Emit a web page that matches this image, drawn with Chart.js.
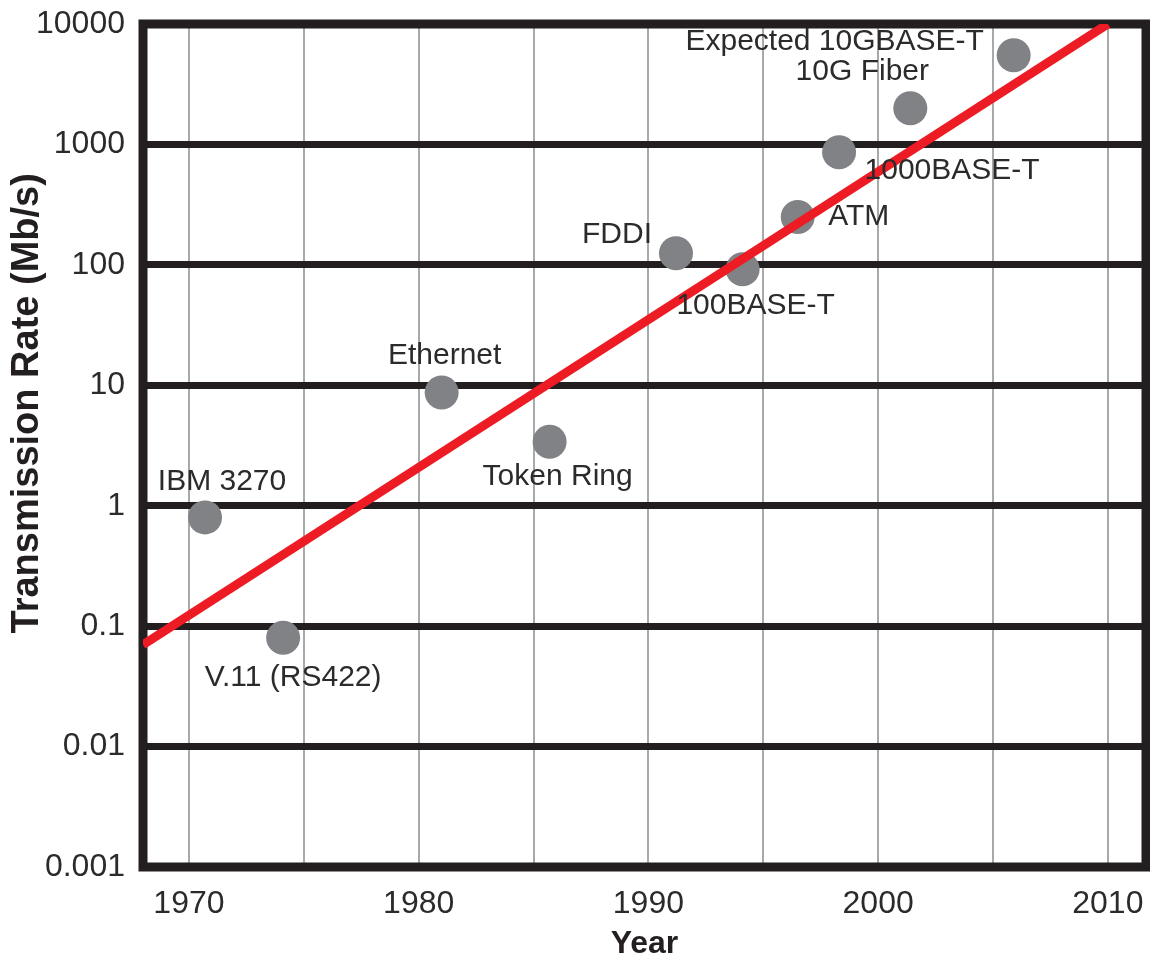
<!DOCTYPE html>
<html>
<head>
<meta charset="utf-8">
<script src="https://cdn.jsdelivr.net/npm/chart.js@4.4.1/dist/chart.umd.min.js"></script>
<style>
  html, body { margin: 0; padding: 0; background: #fff; }
  #wrap { width: 1150px; height: 960px; }
</style>
</head>
<body>
<div id="wrap"><canvas id="rateChart"></canvas></div>
<script>
// networking technologies, year introduced and rate in Mb/s
const techNames = ['IBM 3270', 'V.11 (RS422)', 'Ethernet', 'Token Ring', 'FDDI', '100BASE-T', 'ATM', '1000BASE-T', '10G Fiber', 'Expected 10GBASE-T'];
const techYears = [1970.7, 1974.1, 1981.0, 1985.7, 1991.2, 1994.1, 1996.5, 1998.3, 2001.4, 2005.9];
const techRates = [0.8, 0.08, 8.7, 3.4, 125, 92, 250, 860, 2000, 5500];

// red trend line
const trendYears = [1968, 2010];
const trendRates = [0.07, 10000];

const yTickValues = [0.001, 0.01, 0.1, 1, 10, 100, 1000, 10000];
const yTickLabels = ['0.001', '0.01', '0.1', '1', '10', '100', '1000', '10000'];
const xTickValues = [1970, 1975, 1980, 1985, 1990, 1995, 2000, 2005, 2010];
const xTickLabels = ['1970', '', '1980', '', '1990', '', '2000', '', '2010'];

// label placement, pixels from the dot centre
const labelOffsets = [[17, -36], [10, 40], [3, -37], [8, 35], [-59, -18], [13, 37], [61, 0], [113, 18], [-48, -36], [-179, -14]];

Chart.defaults.font.family = '"Liberation Sans", Arial, sans-serif';

const framePlugin = {
    id: 'frame',
    beforeDatasetsDraw(chart) {
        const { ctx, chartArea: a } = chart;
        ctx.save();
        ctx.strokeStyle = '#231f20';
        ctx.lineWidth = 9;
        ctx.strokeRect(a.left, a.top, a.right - a.left, a.bottom - a.top);
        ctx.restore();
    }
};

const pointLabels = {
    id: 'pointLabels',
    afterDatasetsDraw(chart) {
        const ctx = chart.ctx;
        const meta = chart.getDatasetMeta(1);
        ctx.save();
        ctx.font = '30px "Liberation Sans", Arial, sans-serif';
        ctx.fillStyle = '#2b2b2b';
        ctx.textAlign = 'center';
        ctx.textBaseline = 'middle';
        meta.data.forEach((pt, i) => {
            ctx.fillText(techNames[i], pt.x + labelOffsets[i][0], pt.y + labelOffsets[i][1]);
        });
        ctx.restore();
    }
};

const ctx = document.getElementById('rateChart').getContext('2d');
new Chart(ctx, {
    type: 'scatter',
    data: {
        datasets: [{
            label: 'Trend',
            data: trendYears.map((x, i) => ({ x: x, y: trendRates[i] })),
            showLine: true,
            borderColor: '#ed1c24',
            borderWidth: 9,
            pointRadius: 0,
            pointHoverRadius: 0
        }, {
            label: 'Technologies',
            data: techYears.map((x, i) => ({ x: x, y: techRates[i] })),
            backgroundColor: '#808285',
            borderWidth: 0,
            pointRadius: 17,
            pointHoverRadius: 17
        }]
    },
    options: {
        responsive: true,
        maintainAspectRatio: false,
        animation: false,
        layout: { autoPadding: false, padding: { top: 24, right: 4, bottom: 0, left: 0 } },
        plugins: {
            legend: { display: false },
            tooltip: { enabled: false }
        },
        scales: {
            x: {
                type: 'linear',
                min: 1968,
                max: 2011.66,
                afterBuildTicks: scale => { scale.ticks = xTickValues.map(v => ({ value: v })); },
                afterFit: scale => {
                    scale.height = 93;
                    scale.paddingLeft = 0;
                    scale.paddingRight = 0;
                },
                ticks: {
                    callback: (v, i) => xTickLabels[i],
                    font: { size: 32 },
                    color: '#2b2b2b',
                    padding: 18,
                    maxRotation: 0,
                    autoSkip: false
                },
                grid: { color: '#a7a9ac', lineWidth: 2, drawTicks: false },
                border: { display: false },
                title: {
                    display: true,
                    text: 'Year',
                    color: '#231f20',
                    font: { size: 32, weight: 'bold', lineHeight: 1 },
                    padding: { top: 0, bottom: 0 }
                }
            },
            y: {
                type: 'logarithmic',
                min: 0.001,
                max: 10000,
                afterBuildTicks: scale => { scale.ticks = yTickValues.map(v => ({ value: v })); },
                afterFit: scale => {
                    scale.width = 143;
                    scale.paddingTop = 0;
                    scale.paddingBottom = 0;
                },
                ticks: {
                    callback: (v, i) => yTickLabels[i],
                    font: { size: 32 },
                    color: '#2b2b2b',
                    padding: 18,
                    autoSkip: false
                },
                grid: { color: '#231f20', lineWidth: 7, drawTicks: false },
                border: { display: false },
                title: {
                    display: true,
                    // leading spaces lift the title a little, as in the original
                    text: '        Transmission Rate (Mb/s)',
                    color: '#231f20',
                    font: { size: 38, weight: 'bold', lineHeight: 1 },
                    padding: { top: 9, bottom: 0 }
                }
            }
        }
    },
    plugins: [framePlugin, pointLabels]
});
</script>
</body>
</html>
